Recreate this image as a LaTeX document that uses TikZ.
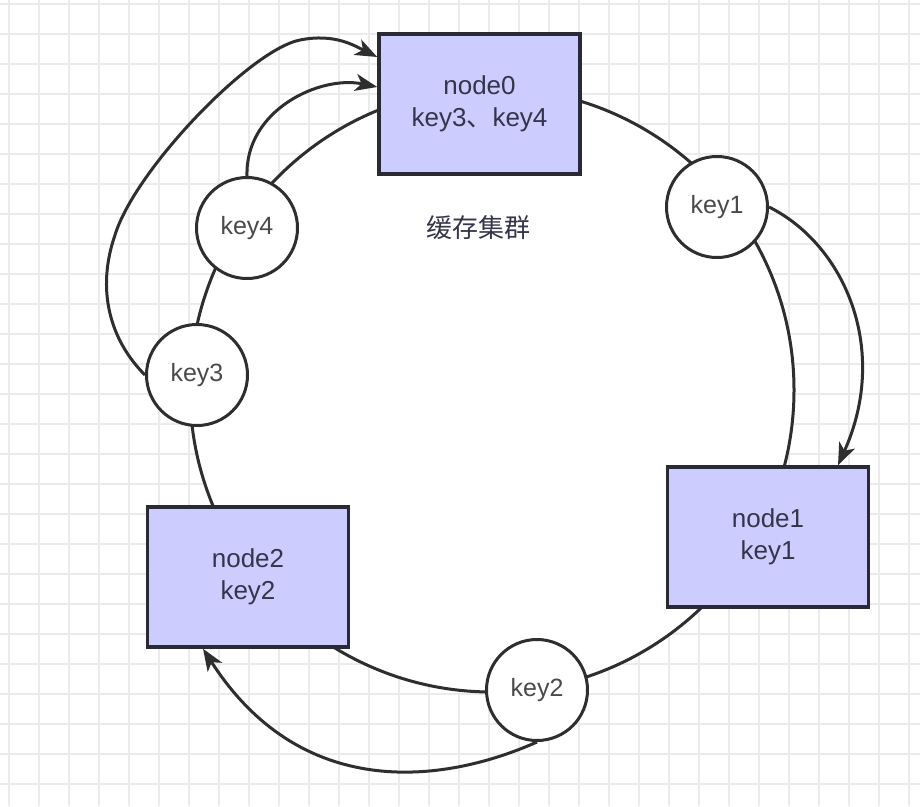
\documentclass[tikz,border=0pt]{standalone}
\usepackage{fontspec}
\setmainfont{Liberation Sans}
\newfontfamily\cjk{Noto Sans CJK SC}
\usetikzlibrary{arrows.meta,calc}
\definecolor{nodefill}{HTML}{CCCCFF}
\definecolor{linec}{HTML}{2E2E2E}
\definecolor{rectc}{HTML}{2A2A36}
\definecolor{gridc}{HTML}{EBEBEB}
\definecolor{txt}{HTML}{35354A}
\definecolor{keytxt}{HTML}{4A4A4A}
\begin{document}
\begin{tikzpicture}[x=1pt,y=-1pt,
  server/.style={draw=rectc, fill=nodefill, line width=3.5pt, minimum width=201pt, minimum height=140pt, inner sep=0pt, align=center, text=txt, font=\fontsize{26}{32}\selectfont},
  keynode/.style={circle, draw=linec, fill=white, line width=3pt, minimum size=101pt, inner sep=0pt, text=keytxt, font=\fontsize{25}{30}\selectfont},
  ringc/.style={circle, draw=linec, fill=white, line width=3pt, minimum size=604pt, inner sep=0pt},
  arr/.style={draw=linec, line width=3pt, -{Stealth[length=22pt,width=17pt,inset=6pt]}},
  gridline/.style={draw=gridc, line width=1.5pt}]
\fill[white] (0,0) rectangle (920,806);
\useasboundingbox (0,0) rectangle (920,806);
% grid
\foreach \i in {0,...,30} \draw[gridline] ({9+30*\i},0) -- ({9+30*\i},806);
\foreach \j in {0,...,26} \draw[gridline] (0,{4+30*\j}) -- (920,{4+30*\j});
% ring
\node[ringc] (ring) at (492,390) {};
\node[text=txt, font=\cjk\fontsize{26}{30}\selectfont] (title) at (478,228) {缓存集群};
% servers
\node[server] (node0) at (479.5,104) {node0\\key3{\cjk 、}key4};
\node[server] (node1) at (768,537) {node1\\key1};
\node[server] (node2) at (248,577) {node2\\key2};
% keys
\node[keynode] (key1) at (717,207) {key1};
\node[keynode] (key2) at (537,690) {key2};
\node[keynode] (key3) at (197,375) {key3};
\node[keynode] (key4) at (247,228) {key4};
% end points
\coordinate (t1) at ($(node1.north)+(70,0)$);
\coordinate (t2) at ($(node2.south)+(-45,0)$);
\coordinate (t3) at ($(node0.west)+(0,-47)$);
\coordinate (t4) at ($(node0.west)+(0,-17)$);
\coordinate (c3a) at (115,235);
\coordinate (c3b) at (300,40);
% arrows
\draw[arr] (key1.east) .. controls (845,245) and (890,350) .. (t1);
\draw[arr] (key2.south) .. controls (440,785) and (300,800) .. (t2);
\draw[arr] (key3.west) .. controls (110,340) and (96,290) .. (c3a)
  .. controls (135,170) and (250,50) .. (c3b)
  .. controls (335,33) and (355,46) .. (t3);
\draw[arr] (key4.north) .. controls (245,110) and (320,75) .. (t4);
\end{tikzpicture}
\end{document}
